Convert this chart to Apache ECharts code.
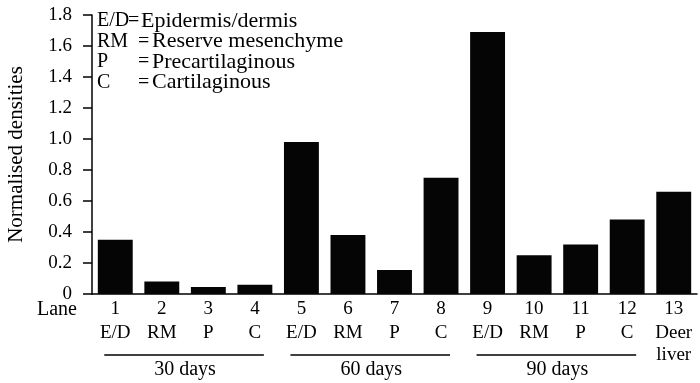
<!DOCTYPE html>
<html>
<head>
<meta charset="utf-8">
<script src="https://cdn.jsdelivr.net/npm/echarts@6/dist/echarts.min.js"></script>
<style>
  html, body { margin: 0; padding: 0; background: #fff; }
  #chart { width: 700px; height: 383px; }
</style>
</head>
<body>
<div id="chart"></div>
<script>
// lanes and tissue codes
const lanes = ['1', '2', '3', '4', '5', '6', '7', '8', '9', '10', '11', '12', '13']
const tissues = ['E/D', 'RM', 'P', 'C', 'E/D', 'RM', 'P', 'C', 'E/D', 'RM', 'P', 'C', 'Deer\nliver']
const densities = [0.35, 0.08, 0.045, 0.06, 0.98, 0.38, 0.155, 0.75, 1.69, 0.25, 0.32, 0.48, 0.66]
// groups: first lane index, last lane index, label
const groups = [[0, 3, '30 days'], [4, 7, '60 days'], [8, 11, '90 days']]
const legendAbbr = ['E/D', 'RM', 'P', 'C']
const legendText = ['Epidermis/dermis', 'Reserve mesenchyme', 'Precartilaginous', 'Cartilaginous']

const FONT = 'Liberation Serif'
const chart = echarts.init(document.getElementById('chart'))

function txt(text, left, top, size) {
  return {
    type: 'text', left: left, top: top,
    style: { text: text, fontFamily: FONT, fontSize: size, fill: '#000' }
  }
}

// x of "=" and of the meaning for each legend row
const eqX = [128, 138, 138, 138]
const meanX = [141, 152, 152, 152]
const legendGraphic = []
legendAbbr.forEach((a, i) => {
  const top = 11 + i * 20.5
  legendGraphic.push(txt(a, 97, top, 20))
  legendGraphic.push(txt('=', eqX[i], top, 20))
  legendGraphic.push(txt(legendText[i], meanX[i], top - 1, 22))
})

chart.setOption({
  animation: false,
  backgroundColor: '#fff',
  grid: { left: 92, right: 3, top: 15, bottom: 89, outerBoundsMode: 'none' },
  xAxis: {
    type: 'category',
    data: lanes,
    axisTick: { show: false },
    axisLine: { lineStyle: { color: '#000', width: 1.5 } },
    axisLabel: {
      margin: 4,
      interval: 0,
      formatter: function(val, idx) {
        const t = tissues[idx].split('\n')
        let s = '{a|' + val + '}\n{b|' + t[0] + '}'
        if (t[1]) s += '\n{c|' + t[1] + '}'
        return s
      },
      rich: {
        a: { fontFamily: FONT, fontSize: 19, color: '#000', lineHeight: 22 },
        b: { fontFamily: FONT, fontSize: 19, color: '#000', lineHeight: 26 },
        c: { fontFamily: FONT, fontSize: 19, color: '#000', lineHeight: 19 }
      }
    }
  },
  yAxis: {
    type: 'value',
    min: 0,
    max: 1.8,
    interval: 0.2,
    name: 'Normalised densities',
    nameLocation: 'middle',
    nameRotate: 90,
    nameGap: 65,
    nameTextStyle: { fontFamily: FONT, fontSize: 21, color: '#000' },
    splitLine: { show: false },
    axisLine: { show: true, lineStyle: { color: '#000', width: 1.5 } },
    axisTick: { show: true, length: 9, lineStyle: { color: '#000', width: 1.5 } },
    axisLabel: {
      margin: 20,
      formatter: v => '{t|' + (v === 0 ? '0' : v.toFixed(1)) + '}',
      rich: {
        t: { fontFamily: FONT, fontSize: 19, color: '#000' }
      }
    }
  },
  graphic: legendGraphic.concat([txt('Lane', 37, 300, 20)]),
  series: [
    {
      type: 'bar',
      data: densities,
      barCategoryGap: '25%',
      itemStyle: { color: '#050505' }
    },
    {
      type: 'custom',
      clip: false,
      silent: true,
      data: groups,
      encode: { x: [0, 1] },
      renderItem: function(params, api) {
        const p1 = api.coord([api.value(0), 0])
        const p2 = api.coord([api.value(1), 0])
        const y = p1[1] + 61
        return {
          type: 'group',
          children: [
            {
              type: 'line',
              shape: { x1: p1[0] - 11, y1: y, x2: p2[0] + 9, y2: y },
              style: { stroke: '#000', lineWidth: 1.5 }
            },
            {
              type: 'text',
              x: (p1[0] + p2[0]) / 2,
              y: y + 15,
              style: {
                text: groups[params.dataIndex][2],
                fontFamily: FONT,
                fontSize: 20,
                fill: '#000',
                align: 'center',
                verticalAlign: 'middle'
              }
            }
          ]
        }
      }
    }
  ]
})
</script>
</body>
</html>
